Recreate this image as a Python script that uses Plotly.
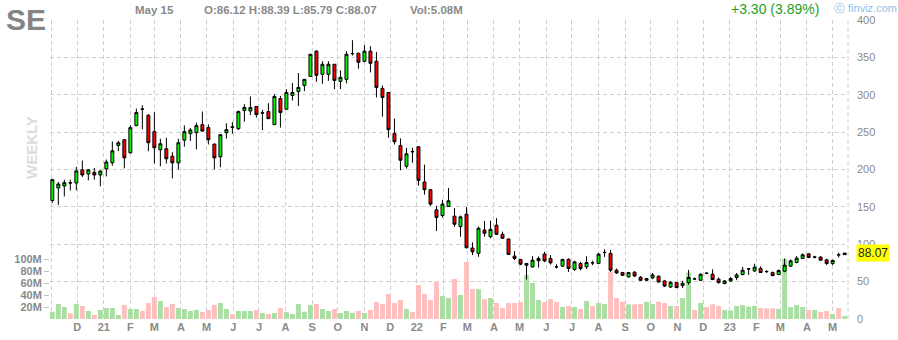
import plotly.graph_objects as go
import pandas as pd

# ---------------- data (weekly, SE) ----------------
start_week = "2020-11-02"

opens = [158.5,175.3,177.9,182.2,182.0,199.5,194.0,196.2,192.7,200.8,
         209.0,232.2,239.8,222.3,258.7,281.0,272.5,250.6,226.4,227.7,
         217.8,208.9,239.3,247.9,249.3,260.0,256.0,234.0,217.0,249.3,
         257.0,254.6,278.9,278.3,284.3,275.4,277.5,260.0,295.0,280.6,
         299.0,304.4,312.5,324.6,358.3,327.3,327.3,340.8,317.9,320.6,
         354.8,355.6,344.8,358.3,344.8,308.5,303.0,248.0,232.0,204.3,
         224.2,230.4,183.3,173.0,146.0,138.4,150.5,137.6,123.5,140.2,
         94.9,87.8,119.1,110.1,125.4,113.3,107.0,84.1,79.7,72.0,
         69.7,77.8,86.8,81.0,69.9,70.7,79.7,66.2,74.3,69.7,
         75.3,74.3,88.9,87.8,65.3,62.2,56.3,62.6,55.9,51.8,
         54.9,57.2,50.9,42.8,48.7,44.7,48.7,53.8,51.8,61.3,
         59.9,53.2,47.4,50.9,55.5,59.5,66.9,64.3,67.6,63.6,
         62.2,59.5,63.9,70.7,75.6,81.0,87.2,82.7,82.8,79.1,
         74.3,86.0,86.12]

highs = [187.7,183.3,186.4,186.4,203.5,212.0,200.8,202.0,198.5,213.3,
         237.5,238.5,240.5,259.0,281.5,286.0,274.3,276.6,241.2,242.5,
         223.2,241.2,259.0,255.5,262.7,277.5,260.4,234.5,247.0,261.8,
         263.5,278.9,287.3,297.7,284.8,279.7,288.7,300.8,298.5,307.5,
         315.6,329.0,321.0,354.6,359.6,344.8,344.8,341.0,332.7,358.3,
         373.0,356.0,366.4,365.0,357.0,312.5,303.5,268.1,241.6,229.0,
         229.0,230.8,206.6,173.5,151.4,159.5,175.2,148.3,138.4,149.7,
         102.6,123.5,131.2,131.6,134.9,116.8,107.5,90.8,80.0,75.0,
         84.1,83.7,89.9,85.5,73.4,80.5,81.4,78.0,76.5,84.0,
         78.0,88.3,93.2,92.2,67.5,63.0,63.0,64.0,57.5,55.0,
         61.5,58.5,51.8,50.9,49.5,50.9,65.7,55.5,61.2,62.5,
         66.6,55.5,52.0,56.3,61.5,69.7,67.5,74.0,70.5,65.3,
         63.5,66.2,81.0,79.7,84.1,87.8,88.3,84.5,84.1,80.5,
         79.5,88.8,88.39]

lows = [155.5,152.5,164.0,172.0,172.0,190.0,185.5,186.4,177.4,190.8,
        205.0,224.5,201.6,221.5,258.0,253.7,224.5,208.0,204.3,208.0,
        188.2,199.9,230.4,238.0,226.8,251.0,233.5,199.9,203.0,241.2,
        247.9,252.8,264.0,273.0,269.5,252.8,268.0,260.0,256.0,280.6,
        292.3,285.0,304.8,324.6,317.3,314.7,318.7,307.5,307.5,315.2,
        352.4,334.9,343.5,330.0,296.4,270.8,242.5,233.5,199.0,201.2,
        209.0,178.3,166.3,151.4,117.8,135.7,150.5,123.5,110.1,94.5,
        85.5,83.2,110.1,108.0,112.4,107.9,86.4,78.7,72.0,52.8,
        68.9,68.9,76.0,72.9,67.6,70.0,63.0,64.5,65.0,67.0,
        72.0,73.4,83.0,63.0,60.5,57.5,55.5,56.0,51.0,51.0,
        53.3,48.7,42.8,41.5,41.5,41.5,46.0,52.0,51.0,59.9,
        52.0,47.4,46.5,49.5,52.0,58.5,59.0,63.0,61.7,61.7,
        57.2,58.5,62.6,69.7,74.5,80.0,81.4,81.0,78.3,72.0,
        72.0,82.3,85.79]

closes = [186.4,180.6,182.4,182.0,198.1,192.7,199.5,192.7,198.0,210.0,
          225.0,235.8,215.6,256.0,276.2,280.6,235.8,229.0,234.5,214.3,
          208.9,235.8,250.6,252.8,258.7,251.4,239.8,215.6,246.6,253.3,
          256.6,277.5,283.0,283.0,273.5,275.8,268.0,297.7,276.2,303.0,
          303.0,309.8,320.6,354.2,326.0,340.8,340.8,319.2,323.3,354.2,
          355.2,343.5,358.3,342.1,309.8,296.4,253.3,237.1,212.4,221.0,
          223.8,185.5,173.0,153.7,135.7,153.7,158.1,126.8,136.6,95.3,
          89.9,121.4,114.7,120.0,113.3,107.9,86.4,81.0,73.4,74.3,
          78.7,81.0,77.8,75.1,69.7,79.7,67.6,76.4,67.6,75.6,
          75.1,86.8,89.1,65.3,61.6,58.5,62.2,57.6,51.8,54.1,
          59.0,49.5,44.1,49.1,42.0,47.8,55.5,53.5,59.9,61.1,
          52.8,48.7,50.9,54.1,59.0,65.3,67.1,69.3,62.2,63.4,
          58.1,64.9,72.0,77.8,81.4,85.9,82.4,82.9,78.7,74.3,
          78.3,85.8,88.07]

volumes_m = [12,25,20,10,25,21.7,13.3,6.7,15,18.3,
             18.3,6.7,23.3,16.7,16.7,13.3,26.7,36.7,30,20,
             25,18.3,16.7,13.3,15,11.7,15,23.3,26.7,16.7,
             8.3,13.3,13.3,13.3,15,10,8.3,10,18.3,11.7,
             8.3,25,12.2,23.3,25,16.7,13.3,16.7,10,13.3,
             10,13.3,10,15,28.3,25,41.7,26.7,31.7,16.7,
             11.7,56.7,41.7,31.7,62.2,38.3,35,66.7,40,95,
             50,50,33.3,35,26.7,18.3,26.7,26.7,28.3,73.3,
             60,31.7,28.3,33.3,28.3,20,21.7,20,16.7,30,
             21.7,26.7,25,78.9,35,28.9,24.4,24.4,25,28.9,
             25,28.9,26.7,21.7,21.7,35,77.2,15,26.7,20,
             24.4,21.7,15,13.9,21.7,23.3,20.6,21.7,18.3,17.8,
             17.8,16.7,100,20,23.3,20,15,15,11.7,13.3,
             8.3,18.3,5.08]

price_ticks = [0, 50, 100, 150, 200, 250, 300, 350, 400]
vol_ticks = [20, 40, 60, 80, 100]
vol_tick_labels = ["20M", "40M", "60M", "80M", "100M"]
month_letters = ["J", "F", "M", "A", "M", "J", "J", "A", "S", "O", "N", "D"]

ticker = "SE"
header_date = "May 15"
header_ohlc = "O:86.12 H:88.39 L:85.79 C:88.07"
header_vol = "Vol:5.08M"
header_change = "+3.30 (3.89%)"

# ---------------- build ----------------
dates = pd.date_range(start_week, periods=len(closes), freq="7D")
month_starts = pd.date_range("2020-11-01", "2023-05-01", freq="MS")
month_text = []
for i, d in enumerate(month_starts):
    if i == 0:
        month_text.append("")
    elif d.month == 1:
        month_text.append(d.strftime("%y"))
    else:
        month_text.append(month_letters[d.month - 1])

W, H = 898, 340
L, R, T, B = 50, 50, 20, 21
PW, PH = W - L - R, H - T - B

def fx(px):
    return (px - L) / PW

def fy(py):
    return (H - B - py) / PH

FONT = "Liberation Sans, Arial, sans-serif"
GRAY = "#8a8a8a"
GRID = "#d0d0d0"

vol_colors = ["#a9dfa3" if c >= o else "#ffbfbf" for o, c in zip(opens, closes)]

fig = go.Figure()
fig.add_trace(go.Bar(x=dates, y=volumes_m, marker=dict(color=vol_colors, line=dict(width=0)),
                     yaxis="y", hoverinfo="skip", showlegend=False))
fig.add_trace(go.Candlestick(
    x=dates, open=opens, high=highs, low=lows, close=closes, yaxis="y2",
    increasing=dict(line=dict(color="black", width=1), fillcolor="#00f000"),
    decreasing=dict(line=dict(color="black", width=1), fillcolor="#f00000"),
    whiskerwidth=0, showlegend=False, hoverinfo="skip"))

x0 = dates[0] - pd.Timedelta(days=2.7)
x1 = dates[-1] + pd.Timedelta(days=3.9)

fig.update_layout(
    width=W, height=H, margin=dict(l=L, r=R, t=T, b=B, pad=0, autoexpand=False),
    paper_bgcolor="white", plot_bgcolor="white",
    font=dict(family=FONT, color=GRAY, size=11),
    bargap=0.18, showlegend=False,
    xaxis=dict(type="date", range=[x0, x1], tickvals=month_starts, ticktext=month_text,
               showgrid=True, gridcolor=GRID, griddash="4px,3px", gridwidth=1,
               zeroline=False, showline=False, ticks="", automargin=False,
               tickfont=dict(family=FONT, size=11, color=GRAY, weight="bold"),
               rangeslider=dict(visible=False), fixedrange=True),
    yaxis=dict(range=[0, PH / 0.6], side="left", tickvals=vol_ticks, ticktext=vol_tick_labels,
               showgrid=False, zeroline=False, showline=False, automargin=False,
               ticks="outside", ticklen=5, tickcolor="#c0c0c0",
               tickfont=dict(family=FONT, size=11, color=GRAY, weight="bold")),
    yaxis2=dict(range=[0, 400], overlaying="y", side="right", tickvals=price_ticks,
                showgrid=True, gridcolor=GRID, griddash="4px,3px", gridwidth=1,
                zeroline=False, showline=False, ticks="", ticklabelstandoff=8, automargin=False,
                tickfont=dict(family=FONT, size=11, color=GRAY)),
)

fig.add_shape(type="line", xref="paper", yref="paper", x0=1, x1=1, y0=0, y1=1,
              line=dict(color=GRID, width=1, dash="4px,3px"), layer="below")

ann = [
    dict(text=ticker, x=fx(4), y=fy(19), font=dict(size=30, color="#848484", weight="bold")),
    dict(text=header_date, x=fx(133), y=fy(10), font=dict(size=11.5, color=GRAY, weight="bold")),
    dict(text=header_ohlc, x=fx(202), y=fy(10), font=dict(size=11.5, color=GRAY, weight="bold")),
    dict(text=header_vol, x=fx(408), y=fy(10), font=dict(size=11.5, color=GRAY, weight="bold")),
    dict(text=header_change, x=fx(729), y=fy(9), font=dict(size=14, color="#1e9e1e")),
    dict(text="\u24d2 finviz.com", x=fx(832), y=fy(8), font=dict(size=11, color="#8dbde3")),
]
for a in ann:
    fig.add_annotation(xref="paper", yref="paper", xanchor="left", yanchor="middle",
                       showarrow=False, **a)

fig.add_annotation(text="WEEKLY", xref="paper", yref="paper", x=fx(31), y=fy(148),
                   textangle=-90, showarrow=False, xanchor="center", yanchor="middle",
                   font=dict(size=15, color="#dcdcdc", weight="bold"))

fig.add_annotation(text=f"{closes[-1]:.2f}", xref="paper", yref="y2", x=fx(856), y=closes[-1],
                   xanchor="left", yanchor="middle", showarrow=False, bgcolor="#ffff00",
                   borderpad=1, font=dict(size=12, color="#222222"))

fig.write_html("out.html")
